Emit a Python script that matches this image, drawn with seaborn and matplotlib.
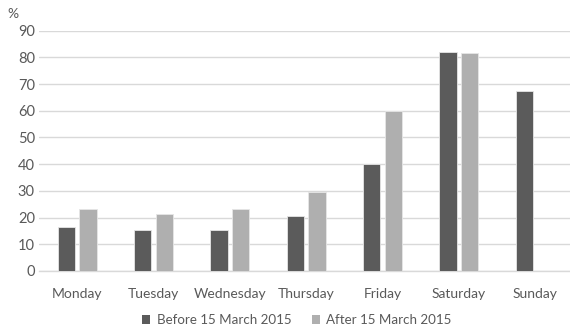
import numpy as np
import pandas as pd
import matplotlib
matplotlib.use("Agg")
import matplotlib.pyplot as plt
from matplotlib.patches import Patch
import seaborn as sns

days = ["Monday", "Tuesday", "Wednesday", "Thursday", "Friday", "Saturday", "Sunday"]
before = [16.5, 15.3, 15.3, 20.5, 40.0, 82.0, 67.6]
after = [23.1, 21.3, 23.1, 29.5, 60.0, 81.8, np.nan]
series_names = ["Before 15 March 2015", "After 15 March 2015"]
yticks = [0, 10, 20, 30, 40, 50, 60, 70, 80, 90]

colors = ["#5b5b5b", "#afafaf"]
text_color = "#595959"
grid_color = "#d9d9d9"

sns.set_theme(style="white")
plt.rcParams["font.family"] = ["Lato", "DejaVu Sans"]

df = pd.DataFrame({
    "day": days * 2,
    "value": before + after,
    "period": [series_names[0]] * len(days) + [series_names[1]] * len(days),
})

W, H = 570, 331
fig = plt.figure(figsize=(W / 100, H / 100), dpi=100)
ax = fig.add_axes([39 / W, 60 / H, 534.4 / W, 240.3 / H])

sns.barplot(
    data=df, x="day", y="value", hue="period", order=days,
    hue_order=series_names, palette=colors, width=0.566, gap=0.2,
    edgecolor="#e6e6e6", linewidth=0.6, legend=False, ax=ax, zorder=3,
)

ax.set_ylim(0, 90)
ax.set_xlim(-0.5, len(days) - 0.5)
ax.set_yticks(yticks)
ax.set_xlabel("")
ax.set_ylabel("")
ax.yaxis.grid(True, color=grid_color, linewidth=1.0, zorder=0)
ax.set_axisbelow(True)
for side in ["top", "right", "left"]:
    ax.spines[side].set_visible(False)
ax.spines["bottom"].set_color(grid_color)
ax.spines["bottom"].set_linewidth(1.0)
ax.tick_params(axis="y", length=0, pad=3, labelsize=10.5, labelcolor=text_color)
ax.tick_params(axis="x", length=0, pad=12, labelsize=10, labelcolor=text_color)

fig.text(7 / W, 1 - 14 / H, "%", fontsize=10, color=text_color, va="center", ha="left")

handles = [Patch(facecolor=c, edgecolor="none") for c in colors]
fig.legend(
    handles, series_names, loc="center", bbox_to_anchor=(297 / W, 11 / H),
    ncol=2, frameon=False, fontsize=9.6, labelcolor=text_color,
    handlelength=0.6, handleheight=0.6, handletextpad=0.5, columnspacing=1.5,
)

fig.savefig("out.png", dpi=100)
